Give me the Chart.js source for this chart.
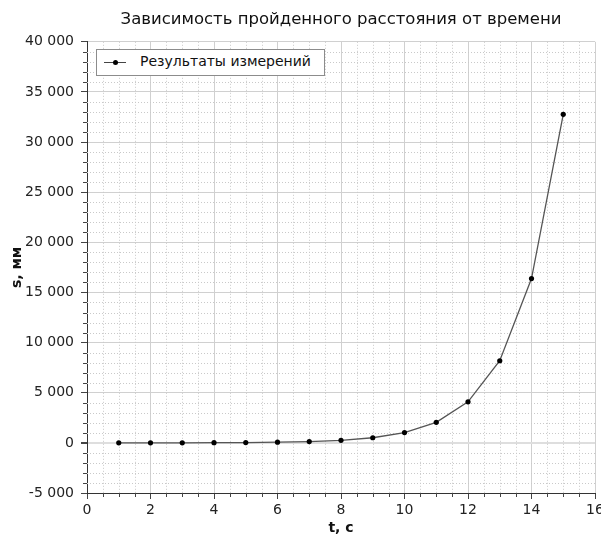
<!DOCTYPE html>
<html>
<head>
<meta charset="utf-8">
<script src="https://cdn.jsdelivr.net/npm/chart.js@4"></script>
<style>
  body { margin: 0; background: #fff; }
  #wrap { position: relative; width: 601px; height: 537px; }
  #legend {
    position: absolute; left: 96px; top: 49px; width: 227px; height: 25px;
    border: 1px solid #8c8c8c; background: #fff;
    font: 14px "DejaVu Sans", sans-serif; color: #111;
  }
  #legend .ln { position: absolute; left: 7px; top: 12px; width: 22px; height: 1px; background: #444; }
  #legend .dot { position: absolute; left: 16px; top: 10px; width: 5px; height: 5px; border-radius: 50%; background: #000; }
  #legend .txt { position: absolute; left: 43px; top: 3px; white-space: nowrap; }
</style>
</head>
<body>
<div id="wrap">
  <canvas id="chart" width="601" height="537"></canvas>
  <div id="legend"><span class="ln"></span><span class="dot"></span><span class="txt"></span></div>
</div>
<script>
// data
const times = [1, 2, 3, 4, 5, 6, 7, 8, 9, 10, 11, 12, 13, 14, 15];
const distances = [2, 4, 8, 16, 32, 64, 128, 256, 512, 1024, 2048, 4096, 8192, 16384, 32768];
const seriesName = "Результаты измерений";
const chartTitle = "Зависимость пройденного расстояния от времени";
const xTitle = "t, с";
const yTitle = "s, мм";
const xRange = [0, 16];
const yRange = [-5000, 40000];
const xMajor = 2, xMinor = 0.5;
const yMajor = 5000, yMinor = 1000;

const FONT = "'DejaVu Sans', sans-serif";
Chart.defaults.font.family = FONT;
Chart.defaults.font.size = 14;
Chart.defaults.color = "#222";

function fmt(v) {
  return String(v).replace(/\B(?=(\d{3})+(?!\d))/g, " ");
}

// dotted minor grid + short minor ticks
const minorGrid = {
  id: "minorGrid",
  beforeDatasetsDraw(chart) {
    const ctx = chart.ctx;
    const a = chart.chartArea;
    const xs = chart.scales.x, ys = chart.scales.y;
    ctx.save();
    ctx.lineWidth = 1;
    for (let v = xRange[0] + xMinor; v < xRange[1]; v += xMinor) {
      if (Math.abs(v % xMajor) < 1e-9) continue;
      const px = Math.round(xs.getPixelForValue(v)) + 0.5;
      ctx.strokeStyle = "#c9c9c9";
      ctx.setLineDash([1, 2]);
      ctx.beginPath(); ctx.moveTo(px, a.top); ctx.lineTo(px, a.bottom); ctx.stroke();
      ctx.setLineDash([]);
      ctx.strokeStyle = "#444";
      ctx.beginPath(); ctx.moveTo(px, a.bottom); ctx.lineTo(px, a.bottom + 4); ctx.stroke();
    }
    for (let v = yRange[0] + yMinor; v < yRange[1]; v += yMinor) {
      if (Math.abs(v % yMajor) < 1e-9) continue;
      const py = Math.round(ys.getPixelForValue(v)) + 0.5;
      ctx.strokeStyle = "#c9c9c9";
      ctx.setLineDash([1, 2]);
      ctx.beginPath(); ctx.moveTo(a.left, py); ctx.lineTo(a.right, py); ctx.stroke();
      ctx.setLineDash([]);
      ctx.strokeStyle = "#444";
      ctx.beginPath(); ctx.moveTo(a.left - 4, py); ctx.lineTo(a.left, py); ctx.stroke();
    }
    ctx.restore();
  }
};

document.querySelector("#legend .txt").textContent = seriesName;

new Chart(document.getElementById("chart"), {
  type: "line",
  data: {
    datasets: [{
      label: seriesName,
      data: times.map((t, i) => ({ x: t, y: distances[i] })),
      borderColor: "#555",
      borderWidth: 1.3,
      pointRadius: 2.6,
      pointBackgroundColor: "#000",
      pointBorderColor: "#000",
      pointBorderWidth: 0,
      tension: 0,
    }],
  },
  options: {
    responsive: false,
    animation: false,
    layout: { padding: { top: 10, right: 6, left: 0, bottom: 0 } },
    plugins: {
      legend: { display: false },
      tooltip: { enabled: false },
      title: {
        display: true,
        text: chartTitle,
        fullSize: false,
        color: "#111",
        font: { family: FONT, size: 16.5, weight: "normal", lineHeight: 1.2 },
        padding: { top: 0, bottom: 12 },
      },
    },
    scales: {
      x: {
        type: "linear",
        min: xRange[0],
        max: xRange[1],
        afterFit: (s) => { s.height = 44; s.paddingRight = 0; },
        ticks: {
          stepSize: xMajor,
          color: "#222",
          padding: 3,
          font: { family: FONT, size: 14 },
        },
        grid: {
          color: "#d0d0d0",
          tickColor: "#444",
          tickLength: 6,
        },
        border: { color: "#333", width: 1 },
        title: {
          display: true,
          text: xTitle,
          color: "#111",
          font: { family: FONT, size: 14, weight: "bold" },
          padding: { top: 0, bottom: 0 },
        },
      },
      y: {
        type: "linear",
        min: yRange[0],
        max: yRange[1],
        afterFit: (s) => { s.width = 87; },
        ticks: {
          stepSize: yMajor,
          color: "#222",
          padding: 7,
          font: { family: FONT, size: 14 },
          callback: (v) => fmt(v),
        },
        grid: {
          color: (c) => c.tick && c.tick.value === 0 ? "#dedede" : "#d0d0d0",
          lineWidth: (c) => c.tick && c.tick.value === 0 ? 2 : 1,
          tickColor: "#444",
          tickLength: 6,
        },
        border: { color: "#333", width: 1 },
        title: {
          display: true,
          text: yTitle,
          color: "#111",
          font: { family: FONT, size: 14, weight: "bold" },
          padding: { top: 9, bottom: 0 },
        },
      },
    },
  },
  plugins: [minorGrid],
});
</script>
</body>
</html>
